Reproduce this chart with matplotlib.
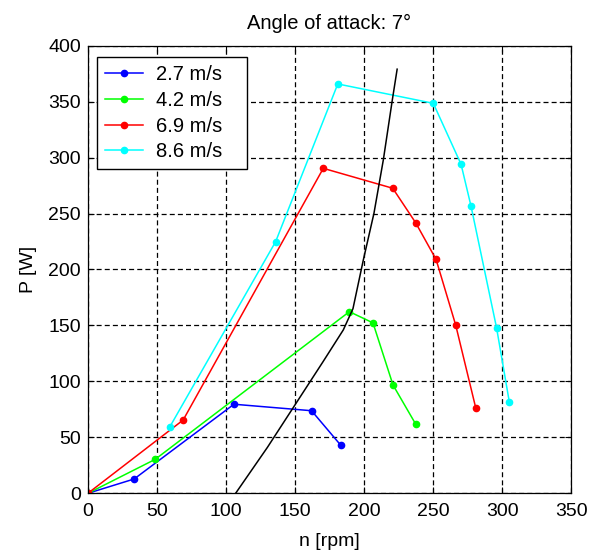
import matplotlib
matplotlib.use('Agg')
import matplotlib.pyplot as plt

# Power curves, angle of attack 7 deg
labels = ['2.7 m/s', '4.2 m/s', '6.9 m/s', '8.6 m/s']
colors = ['#0000ff', '#00ff00', '#ff0000', '#00ffff']

n_27 = [0, 33.5, 105.8, 162, 183]
p_27 = [0, 12.8, 79.6, 73.8, 43.2]

n_42 = [0, 48.8, 189.4, 206.5, 221, 237.4]
p_42 = [0, 30.4, 162.3, 152.3, 96.8, 61.9]

n_69 = [0, 69, 170.5, 220.8, 237.4, 252.2, 266.4, 280.9]
p_69 = [0, 65.5, 290.4, 272.6, 241.8, 209, 150.4, 76.5]

n_86 = [59.4, 136, 181, 250.2, 270.3, 277.5, 296, 305.3]
p_86 = [59.5, 224.9, 365.8, 348.5, 294, 256.7, 148, 81.3]

# optimum operating curve (black line)
n_opt = [107, 130, 150, 170, 185, 192, 199.5, 207.2, 214, 220.5, 224]
p_opt = [0, 41, 79, 117, 146, 165, 208.5, 250.2, 298, 351.5, 379]

series = [(n_27, p_27), (n_42, p_42), (n_69, p_69), (n_86, p_86)]

plt.rcParams['font.family'] = ['Liberation Sans', 'DejaVu Sans']
plt.rcParams['font.size'] = 14

fig = plt.figure(figsize=(5.98, 5.51), dpi=100)
ax = fig.add_axes([0.147, 0.1047, 0.808, 0.8124])

for (n, p), c, lab in zip(series, colors, labels):
    ax.plot(n, p, color=c, marker='.', markersize=9, linewidth=1.1, label=lab)
ax.plot(n_opt, p_opt, color='black', linewidth=1.1)

ax.set_xlim(0, 350)
ax.set_ylim(0, 400)
ax.set_xticks(range(0, 351, 50))
ax.set_yticks(range(0, 401, 50))
ax.grid(True, color='black', linestyle=(0, (4, 2.5)), linewidth=0.9)
ax.tick_params(direction='in', length=4, top=True, right=True, width=0.8,
               labelsize=14, pad=5)
ax.tick_params(axis='x', pad=7)
for s in ax.spines.values():
    s.set_linewidth(0.9)

ax.set_title('Angle of attack: 7°', fontsize=14.5, pad=12)
ax.set_xlabel('n [rpm]', fontsize=14, labelpad=9)
ax.set_ylabel('P [W]', fontsize=14, labelpad=8)

leg = ax.legend(loc='upper left', bbox_to_anchor=(0.0193, 0.974, 0.3106, 0.0),
                mode='expand', borderaxespad=0,
                fancybox=False, edgecolor='black', framealpha=1,
                handlelength=1.85, handletextpad=0.65, labelspacing=0.33,
                borderpad=0.4, fontsize=14.5)
leg.get_frame().set_linewidth(1)

fig.savefig('out.png', dpi=100)
